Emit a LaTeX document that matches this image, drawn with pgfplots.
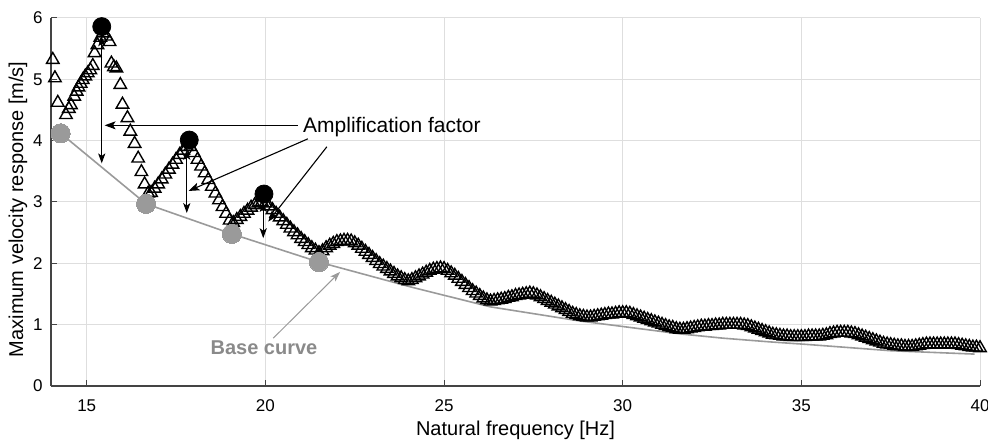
\documentclass[border=0pt]{standalone}
\usepackage{fontspec}
\setmainfont{Liberation Sans}
\usepackage{pgfplots}
\usepackage{pgfplotstable}
\pgfplotsset{compat=1.18}
\usetikzlibrary{arrows.meta}
\definecolor{basegray}{HTML}{9A9A9A}
\definecolor{gridgray}{HTML}{DEDEDE}
\definecolor{axgray}{HTML}{444444}
\definecolor{txtgray}{HTML}{8A8A8A}

\pgfplotstableread{
x y
14.05 5.32
14.11 5.02
14.19 4.62
14.42 4.42
14.50 4.52
14.56 4.58
14.65 4.72
14.72 4.80
14.77 4.87
14.83 4.93
14.89 4.99
14.96 5.05
15.03 5.10
15.10 5.15
15.17 5.22
15.22 5.43
15.30 5.56
15.38 5.68
15.45 5.75
15.55 5.70
15.64 5.61
15.69 5.26
15.76 5.20
15.83 5.18
15.94 4.91
16.00 4.59
16.14 4.37
16.22 4.15
16.34 3.95
16.44 3.71
16.53 3.49
16.62 3.29
16.72 3.14
16.8 3.15
16.9 3.22
17.0 3.29
17.1 3.37
17.2 3.45
17.3 3.53
17.4 3.61
17.5 3.69
17.6 3.77
17.7 3.84
17.8 3.90
17.9 3.90
18.0 3.80
18.1 3.69
18.2 3.58
18.3 3.47
18.4 3.36
18.5 3.25
18.6 3.14
18.7 3.03
18.8 2.92
18.9 2.81
19.0 2.70
19.1 2.66
19.2 2.71
19.3 2.76
19.4 2.81
19.5 2.86
19.6 2.91
19.7 2.95
19.8 2.98
19.9 3.00
20.0 2.98
20.1 2.93
20.2 2.87
20.3 2.81
20.4 2.75
20.5 2.69
20.6 2.63
20.7 2.57
20.8 2.51
20.9 2.46
21.0 2.40
21.1 2.35
21.2 2.30
21.3 2.25
21.4 2.21
21.5 2.17
21.6 2.20
21.7 2.25
21.8 2.29
21.9 2.32
22.0 2.35
22.1 2.36
22.2 2.37
22.3 2.37
22.4 2.36
22.5 2.33
22.6 2.29
22.7 2.24
22.8 2.19
22.9 2.14
23.0 2.09
23.1 2.04
23.2 1.99
23.3 1.95
23.4 1.91
23.5 1.87
23.6 1.83
23.7 1.79
23.8 1.76
23.9 1.73
24.0 1.71
24.1 1.73
24.2 1.76
24.3 1.79
24.4 1.82
24.5 1.85
24.6 1.88
24.7 1.90
24.8 1.91
24.9 1.92
25.0 1.91
25.1 1.88
25.2 1.84
25.3 1.80
25.4 1.75
25.5 1.70
25.6 1.65
25.7 1.60
25.8 1.55
25.9 1.51
26.0 1.47
26.1 1.43
26.2 1.40
26.3 1.38
26.4 1.39
26.5 1.40
26.6 1.41
26.7 1.42
26.8 1.44
26.9 1.45
27.0 1.47
27.1 1.48
27.2 1.49
27.3 1.50
27.4 1.51
27.5 1.50
27.6 1.48
27.7 1.45
27.8 1.42
27.9 1.39
28.0 1.36
28.1 1.33
28.2 1.30
28.3 1.27
28.4 1.24
28.5 1.21
28.6 1.18
28.7 1.16
28.8 1.14
28.9 1.13
29.0 1.12
29.1 1.12
29.2 1.13
29.3 1.14
29.4 1.15
29.5 1.16
29.6 1.17
29.7 1.17
29.8 1.18
29.9 1.19
30.0 1.19
30.1 1.19
30.2 1.18
30.3 1.16
30.4 1.14
30.5 1.12
30.6 1.10
30.7 1.08
30.8 1.06
30.9 1.04
31.0 1.02
31.1 1.00
31.2 0.98
31.3 0.96
31.4 0.95
31.5 0.93
31.6 0.92
31.7 0.92
31.8 0.93
31.9 0.94
32.0 0.95
32.1 0.96
32.2 0.97
32.3 0.97
32.4 0.98
32.5 0.98
32.6 0.99
32.7 0.99
32.8 1.00
32.9 1.00
33.0 1.00
33.1 1.00
33.2 1.00
33.3 1.00
33.4 0.99
33.5 0.98
33.6 0.96
33.7 0.94
33.8 0.92
33.9 0.90
34.0 0.88
34.1 0.86
34.2 0.84
34.3 0.83
34.4 0.82
34.5 0.81
34.6 0.81
34.7 0.80
34.8 0.80
34.9 0.80
35.0 0.80
35.1 0.80
35.2 0.81
35.3 0.81
35.4 0.81
35.5 0.81
35.6 0.82
35.7 0.83
35.8 0.85
35.9 0.86
36.0 0.87
36.1 0.87
36.2 0.87
36.3 0.87
36.4 0.86
36.5 0.85
36.6 0.83
36.7 0.81
36.8 0.79
36.9 0.77
37.0 0.75
37.1 0.73
37.2 0.71
37.3 0.69
37.4 0.68
37.5 0.67
37.6 0.66
37.7 0.65
37.8 0.65
37.9 0.64
38.0 0.64
38.1 0.64
38.2 0.65
38.3 0.66
38.4 0.67
38.5 0.68
38.6 0.68
38.7 0.68
38.8 0.68
38.9 0.68
39.0 0.68
39.1 0.68
39.2 0.68
39.3 0.68
39.4 0.67
39.5 0.66
39.6 0.65
39.7 0.64
39.8 0.63
39.9 0.63
40.0 0.62
}\response

\pgfplotstableread{
x y
14.27 4.12
16.66 2.97
19.06 2.48
21.50 2.02
24.1 1.61
26.3 1.29
28.8 1.06
31.6 0.85
32.8 0.78
34.1 0.72
35.1 0.68
37.5 0.575
39.85 0.52
}\basecurve

\pgfplotstableread{
x y
14.27 4.12
16.66 2.97
19.06 2.48
21.50 2.02
}\basepts

\pgfplotstableread{
x y
15.42 5.86
17.87 4.01
19.96 3.13
}\peaks

\begin{document}
\begin{tikzpicture}
\begin{axis}[
  scale only axis, width=464.5pt, height=184pt,
  xmin=14, xmax=40, ymin=0, ymax=6,
  xtick={15,20,25,30,35,40}, ytick={0,1,2,3,4,5,6},
  axis x line*=bottom, axis y line*=left,
  axis line style={axgray, line width=0.6pt, -},
  tick align=inside, major tick length=3pt,
  tick style={axgray, line width=0.5pt},
  grid=major, major grid style={gridgray, line width=0.5pt},
  clip=false,
  /pgf/number format/assume math mode=true,
  tick label style={font=\fontsize{8.5}{10}\selectfont, inner sep=0pt},
  x tick label style={anchor=center, yshift=-10pt},
  y tick label style={anchor=east, xshift=-4pt},
  xlabel={Natural frequency [Hz]},
  ylabel={Maximum velocity response [m/s]},
  label style={font=\fontsize{10.5}{12}\selectfont},
  every axis x label/.style={at={(axis description cs:0.5,-0.12)}, anchor=center},
  every axis y label/.style={at={(axis description cs:-0.0355,0.48)}, rotate=90, anchor=center},
]
\addplot[basegray, line width=0.8pt, no markers] table {\basecurve};
\addplot[only marks, mark=triangle, mark size=3.6pt, mark options={draw=black, line width=0.7pt, fill=none}] table {\response};
\addplot[only marks, color=basegray, mark=*, mark size=4.8pt, mark options={basegray, draw=basegray, fill=basegray, line width=0pt}] table {\basepts};
\addplot[only marks, color=black, mark=*, mark size=4.5pt, mark options={black, fill=black}] table {\peaks};

% amplification arrows
\draw[black, line width=0.55pt, {Stealth[length=5pt,width=3.6pt,inset=1.3pt]}-{Stealth[length=5pt,width=3.6pt,inset=1.3pt]}] (axis cs:15.42,5.70) -- (axis cs:15.42,3.63);
\draw[black, line width=0.55pt, {Stealth[length=5pt,width=3.6pt,inset=1.3pt]}-{Stealth[length=5pt,width=3.6pt,inset=1.3pt]}] (axis cs:17.80,3.85) -- (axis cs:17.80,2.82);
\draw[black, line width=0.55pt, {Stealth[length=5pt,width=3.6pt,inset=1.3pt]}-{Stealth[length=5pt,width=3.6pt,inset=1.3pt]}] (axis cs:19.94,3.00) -- (axis cs:19.94,2.41);

\node[font=\fontsize{10.5}{12}\selectfont, anchor=center] at (axis cs:23.54,4.22) {Amplification factor};
\draw[black, line width=0.55pt, -{Stealth[length=5.5pt,width=4pt,inset=1.3pt]}] (axis cs:20.90,4.25) -- (axis cs:15.50,4.25);
\draw[black, line width=0.55pt, -{Stealth[length=5.5pt,width=4pt,inset=1.3pt]}] (axis cs:21.19,4.03) -- (axis cs:17.85,3.18);
\draw[black, line width=0.55pt, -{Stealth[length=5.5pt,width=4pt,inset=1.3pt]}] (axis cs:21.72,3.90) -- (axis cs:20.08,2.68);

\node[font=\bfseries\fontsize{10}{12}\selectfont, text=txtgray, anchor=center] at (axis cs:19.96,0.62) {Base curve};
\draw[basegray, line width=0.5pt, -{Stealth[length=5pt,width=3.5pt,inset=1.2pt]}] (axis cs:20.22,0.78) -- (axis cs:22.09,1.86);
\end{axis}
\pgfresetboundingbox
\path[use as bounding box] ([xshift=-25.5pt,yshift=-27.5pt]current axis.south west) rectangle ([xshift=4pt,yshift=9pt]current axis.north east);
\end{tikzpicture}
\end{document}
